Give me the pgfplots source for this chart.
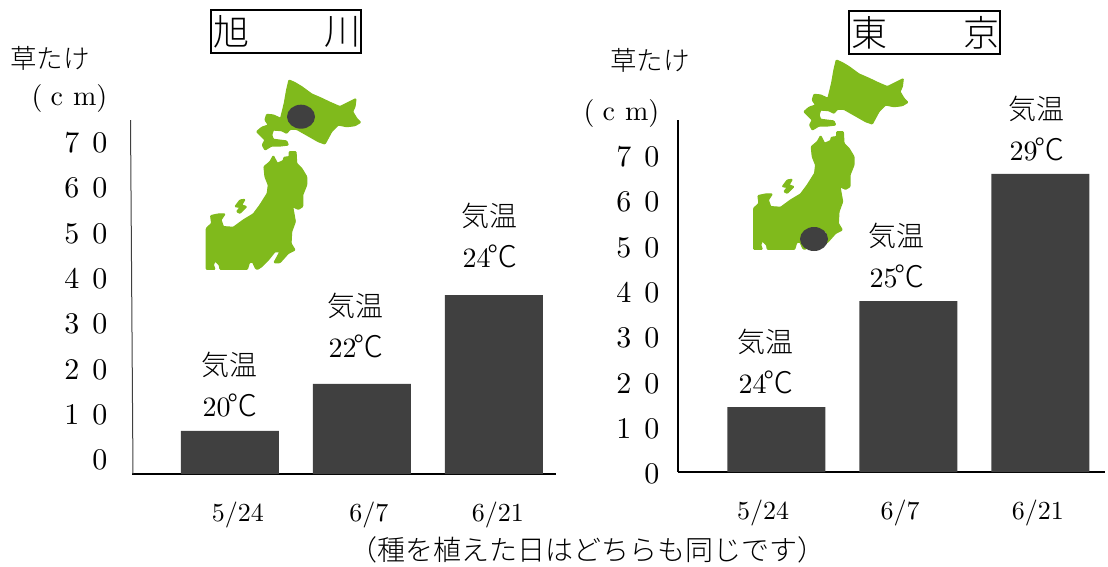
\documentclass[border=0pt]{standalone}
\usepackage{fontspec}
\usepackage{pgfplots}
\pgfplotsset{compat=1.18}
\setmainfont{lmroman10-regular}[Extension=.otf]
\newfontfamily\cjk{Noto Sans CJK JP Light}
\definecolor{barcol}{HTML}{404040}
\definecolor{landcol}{HTML}{80BA1C}

% Outline of northern Japan, local coordinates in thirds of a unit
\newcommand{\japanmap}[2]{%
  \begin{scope}[shift={(#1,#2)},x=0.3333pt,y=-0.3333pt,fill=landcol,draw=landcol,line width=1.2pt,line join=round,rounded corners=0.8pt]
    \filldraw (297,30)--(315,38)--(335,50)--(365,72)--(395,85)--(420,97)--(450,110)--(470,100)--(498,86)--(495,110)--(488,125)--(500,145)--(512,157)--(495,167)--(470,170)--(445,165)--(425,185)--(405,222)--(385,215)--(350,195)--(320,178)--(300,178)--(290,190)--(275,182)--(250,180)--(245,195)--(250,208)--(290,213)--(295,225)--(270,228)--(245,228)--(225,240)--(217,225)--(225,210)--(200,185)--(215,172)--(235,165)--(225,150)--(230,133)--(250,135)--(272,145)--(283,100)--(290,60)--cycle;
    \filldraw (49,475)--(65,460)--(62,437)--(85,432)--(105,432)--(93,450)--(100,470)--(130,472)--(160,450)--(190,432)--(210,405)--(232,370)--(235,345)--(225,320)--(222,290)--(240,275)--(250,257)--(262,280)--(280,272)--(282,262)--(298,260)--(298,245)--(318,245)--(320,280)--(335,295)--(350,320)--(350,345)--(338,375)--(338,410)--(325,418)--(308,410)--(316,455)--(305,485)--(303,520)--(315,540)--(295,550)--(270,578)--(252,578)--(270,545)--(255,545)--(235,570)--(215,590)--(203,598)--(197,596)--(188,576)--(178,578)--(172,598)--(90,598)--(88,585)--(75,573)--(70,585)--(75,598)--(49,598)--cycle;
    \filldraw (150,390)--(165,388)--(155,405)--(170,410)--(150,430)--(140,425)--(150,412)--(135,410)--cycle;
  \end{scope}}

% Two-line temperature note above a bar
\newcommand{\tempnote}[3]{%
  \node[inner sep=0pt,font=\fontsize{28}{28}\selectfont\cjk] at (#1,#2-1) {気温};
  \node[inner sep=0pt,font=\fontsize{28}{24}\selectfont] at (#1+1,#2+39) {#3{\cjk\fontsize{30}{24}\selectfont\hspace{-3pt}℃}};}

\pgfplotsset{
  kusatake/.style={
    scale only axis, ybar, ymin=0,
    axis lines=left, axis line style={-},
    bar width=98pt, major tick length=0pt,
    ytick={0,10,20,30,40,50,60,70},
    yticklabels={0,1\hspace{13pt}0,2\hspace{13pt}0,3\hspace{13pt}0,4\hspace{13pt}0,5\hspace{13pt}0,6\hspace{13pt}0,7\hspace{13pt}0},
    xticklabels={5/24,6/7,6/21},
    x axis line style={line width=2pt},
    xticklabel style={font=\fontsize{26}{26}\selectfont,anchor=center,yshift=-41pt},
    yticklabel style={font=\fontsize{30}{30}\selectfont,anchor=east},
  }}

\begin{document}
\begin{tikzpicture}[x=1pt,y=-1pt]
  \path[use as bounding box] (0,0) rectangle (1108,566);

  % Asahikawa
  \begin{axis}[kusatake, at={(132pt,-474pt)}, anchor=south west,
      width=424pt, height=354pt, xmin=-0.742, xmax=2.47, ymax=78.15,
      xtick={0.06,1.053,2.03},
      y axis line style={draw=none},
      yticklabel style={yshift=14pt,xshift=-21pt}]
    \addplot[fill=barcol,draw=none] coordinates {(0,9.5) (1,19.9) (2,39.5)};
  \end{axis}
  \draw[line width=1pt,black!75] (130.5,120)--(133,474);

  % Tokyo
  \begin{axis}[kusatake, at={(678pt,-472pt)}, anchor=south west,
      width=427pt, height=352pt, xmin=-0.746, xmax=2.489, ymax=77.7,
      xtick={-0.102,0.936,1.98},
      y axis line style={line width=1.5pt},
      yticklabel style={yshift=-2pt,xshift=-15pt}]
    \addplot[fill=barcol,draw=none] coordinates {(0,14.35) (1,37.7) (2,65.8)};
  \end{axis}

  \japanmap{190pt}{-70pt}
  \japanmap{737.3pt}{-50pt}
  \fill[barcol] (301,116.7) ellipse [x radius=14,y radius=12];
  \fill[barcol] (814,239) ellipse [x radius=14,y radius=12];

  % Station titles
  \draw[line width=2pt] (211,10) rectangle (361,53);
  \draw[line width=2pt] (849,11) rectangle (1000,54);
  \node[font=\fontsize{36}{36}\selectfont\cjk] at (231,32) {旭};
  \node[font=\fontsize{36}{36}\selectfont\cjk] at (342,32) {川};
  \node[font=\fontsize{36}{36}\selectfont\cjk] at (869,33) {東};
  \node[font=\fontsize{36}{36}\selectfont\cjk] at (981,33) {京};

  % Axis captions
  \node[font=\fontsize{26.5}{26.5}\selectfont\cjk] at (50,58) {草たけ};
  \node[font=\fontsize{26.5}{26.5}\selectfont\cjk] at (650,60) {草たけ};
  \node[font=\fontsize{28}{28}\selectfont] at (69.5,98) {(\hspace{8pt}c\hspace{10pt}m)};
  \node[font=\fontsize{28}{28}\selectfont] at (621.5,113) {(\hspace{8pt}c\hspace{10pt}m)};

  % Temperature notes
  \tempnote{229}{366}{20}
  \tempnote{355}{307}{22}
  \tempnote{489}{217}{24}
  \tempnote{765}{343}{24}
  \tempnote{896}{237}{25}
  \tempnote{1036}{110}{29}

  \node[font=\fontsize{28}{28}\selectfont\cjk] at (587,550) {（種を植えた日はどちらも同じです）};
\end{tikzpicture}
\end{document}
